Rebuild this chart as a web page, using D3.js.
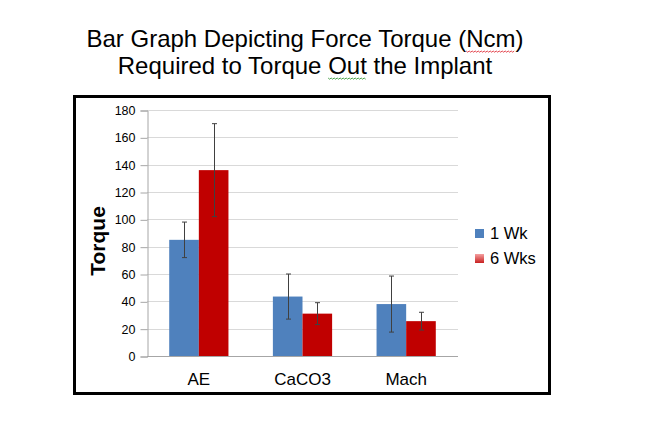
<!DOCTYPE html>
<html>
<head>
<meta charset="utf-8">
<script src="https://cdn.jsdelivr.net/npm/d3@7"></script>
<style>
  html, body { margin: 0; padding: 0; background: #fff; }
  svg { display: block; font-family: "Liberation Sans", Arial, sans-serif; }
</style>
</head>
<body>
<svg id="chart" width="653" height="442"></svg>
<script>
const titleLines = ["Bar Graph Depicting Force Torque (Ncm)", "Required to Torque Out the Implant"];
const categories = ["AE", "CaCO3", "Mach"];
const seriesNames = ["1 Wk", "6 Wks"];
const week1 = [85, 43.5, 38];
const week1Err = [13, 16.5, 20.5];
const week6 = [136, 31, 25.5];
const week6Err = [34, 8, 6.5];
const yTicks = [0, 20, 40, 60, 80, 100, 120, 140, 160, 180];
const yLabel = "Torque";
const colors = ["#4F81BD", "#C00000"];

const svg = d3.select("#chart");
svg.append("rect").attr("width", 653).attr("height", 442).attr("fill", "#fff");

// Title
const title = svg.append("g");
const tBase = [47, 74];
titleLines.forEach((line, i) => {
  title.append("text")
    .attr("x", 305).attr("y", tBase[i])
    .attr("text-anchor", "middle")
    .style("font-size", "24px")
    .attr("fill", "#000")
    .text(line);
});
// spell-check squiggles
function squiggle(textNode, word, color, baseY) {
  const str = textNode.textContent;
  const idx = str.indexOf(word);
  if (idx < 0) return;
  const bbox = textNode.getBBox();
  const x0 = bbox.x + textNode.getSubStringLength(0, idx);
  const w = textNode.getSubStringLength(idx, word.length);
  const pts = [];
  for (let x = 0; x <= w; x += 1.5) {
    pts.push([x0 + x, baseY + 4 + ((Math.round(x / 1.5) % 2) ? 1.2 : 0)]);
  }
  title.append("path").attr("d", d3.line()(pts)).attr("fill", "none")
    .attr("stroke", color).attr("stroke-width", 0.9);
}
const tNodes = title.selectAll("text").nodes();
squiggle(tNodes[0], "Ncm", "#e0303a", tBase[0]);
squiggle(tNodes[1], "Out", "#3a9a3a", tBase[1]);

// Frame
svg.append("rect")
  .attr("x", 74.5).attr("y", 96.5).attr("width", 475).attr("height", 297)
  .attr("fill", "none").attr("stroke", "#000").attr("stroke-width", 3);

const x = d3.scaleBand().domain(categories).range([147, 458]).paddingInner(0).paddingOuter(0);
const groupW = x.bandwidth() / 1.75;
const x1 = d3.scaleBand().domain(seriesNames).range([-groupW / 2, groupW / 2]).padding(0);
const y = d3.scaleLinear().domain([0, 180]).range([356, 110]);

// Gridlines
svg.append("g").selectAll("line").data(yTicks.filter(d => d > 0)).join("line")
  .attr("x1", 147).attr("x2", 458)
  .attr("y1", d => Math.round(y(d)) + 0.5).attr("y2", d => Math.round(y(d)) + 0.5)
  .attr("stroke", "#D9D9D9").attr("stroke-width", 1);

// Y axis
const yAxis = svg.append("g").attr("transform", "translate(147.5,0.5)")
  .call(d3.axisLeft(y).tickValues(yTicks).tickSize(7).tickPadding(5));
yAxis.attr("font-family", null).attr("font-size", null);
yAxis.select(".domain").attr("stroke", "#A6A6A6");
yAxis.selectAll(".tick line").attr("stroke", "#A6A6A6");
yAxis.selectAll(".tick text")
  .style("font-size", "12.5px").attr("fill", "#000")
  .style("font-family", "'Liberation Sans', Arial, sans-serif");

// X axis line
svg.append("line").attr("x1", 147).attr("x2", 458)
  .attr("y1", Math.round(y(0)) + 0.5).attr("y2", Math.round(y(0)) + 0.5)
  .attr("stroke", "#A6A6A6");

// X labels
svg.append("g").selectAll("text").data(categories).join("text")
  .attr("x", d => x(d) + x.bandwidth() / 2)
  .attr("y", 385)
  .attr("text-anchor", "middle")
  .style("font-size", "17px")
  .text(d => d);

// Bars
const series = [
  { name: seriesNames[0], values: week1, errs: week1Err, color: colors[0] },
  { name: seriesNames[1], values: week6, errs: week6Err, color: colors[1] }
];
const bars = svg.append("g");
series.forEach(s => {
  categories.forEach((c, i) => {
    const cx = x(c) + x.bandwidth() / 2;
    bars.append("rect")
      .attr("x", cx + x1(s.name))
      .attr("width", x1.bandwidth())
      .attr("y", y(s.values[i]))
      .attr("height", y(0) - y(s.values[i]))
      .attr("fill", s.color);
  });
});
// Error bars
const eb = svg.append("g").attr("stroke", "#404040").attr("stroke-width", 1);
series.forEach(s => {
  categories.forEach((c, i) => {
    const cx = Math.round(x(c) + x.bandwidth() / 2 + x1(s.name) + x1.bandwidth() / 2) + 0.5;
    const top = y(s.values[i] + s.errs[i]);
    const bot = y(s.values[i] - s.errs[i]);
    eb.append("line").attr("x1", cx).attr("x2", cx).attr("y1", top).attr("y2", bot);
    eb.append("line").attr("x1", cx - 2.5).attr("x2", cx + 2.5).attr("y1", top).attr("y2", top);
    eb.append("line").attr("x1", cx - 2.5).attr("x2", cx + 2.5).attr("y1", bot).attr("y2", bot);
  });
});

// Y label
svg.append("text")
  .attr("transform", "translate(105,241) rotate(-90)")
  .attr("text-anchor", "middle")
  .style("font-size", "21px")
  .attr("font-weight", "bold")
  .text(yLabel);

// Legend
const defs = svg.append("defs");
const grad = defs.append("linearGradient").attr("id", "redGrad").attr("x1", 0).attr("y1", 0).attr("x2", 0).attr("y2", 1);
grad.append("stop").attr("offset", "0%").attr("stop-color", "#F4A0A0");
grad.append("stop").attr("offset", "100%").attr("stop-color", "#C82020");
const legend = svg.append("g");
const legY = [229, 254];
series.forEach((s, i) => {
  legend.append("rect").attr("x", 475).attr("y", legY[i]).attr("width", 9).attr("height", 9)
    .attr("fill", i === 0 ? s.color : "url(#redGrad)");
  legend.append("text").attr("x", 490).attr("y", legY[i] + 10)
    .style("font-size", "16.5px").text(s.name);
});
</script>
</body>
</html>
